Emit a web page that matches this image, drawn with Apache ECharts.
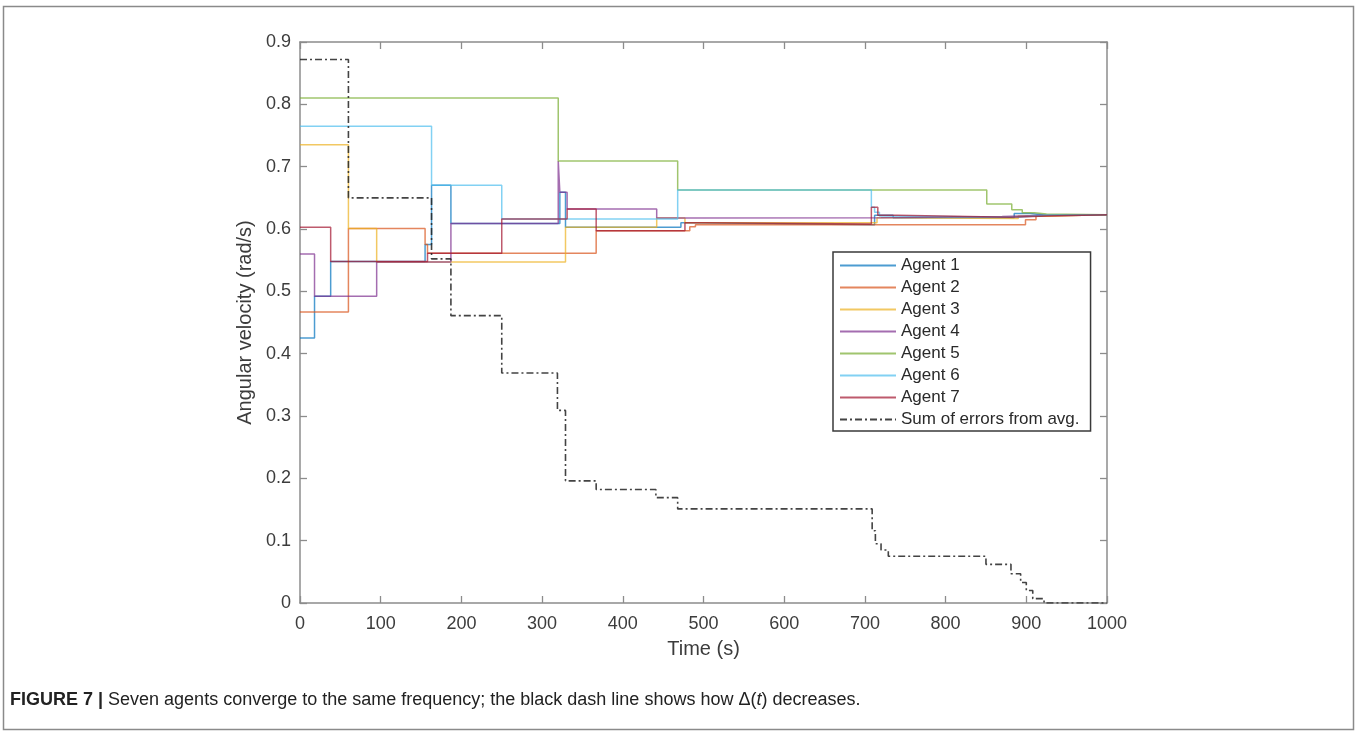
<!DOCTYPE html>
<html>
<head>
<meta charset="utf-8">
<script src="https://cdn.jsdelivr.net/npm/echarts@6/dist/echarts.min.js"></script>
<style>
  html, body { margin: 0; padding: 0; background: #fff; }
  #chart { width: 1357px; height: 735px; }
</style>
</head>
<body>
<div id="chart"></div>
<script>
// Angular velocity of each agent over time, as [time (s), rad/s] steps.
const agent1 = [[0,0.425],[18,0.492],[38,0.548],[155,0.575],[163,0.670],[187,0.609],[322,0.659],[329,0.603],[472,0.610],[490,0.607],[712,0.622],[735,0.618],[885,0.625],[905,0.622],[925,0.623],[1000,0.623]];
const agent2 = [[0,0.467],[60,0.601],[155,0.575],[158,0.561],[367,0.597],[483,0.6035],[490,0.607],[899,0.615],[912,0.621],[925,0.623],[1000,0.623]];
const agent3 = [[0,0.735],[60,0.601],[95,0.547],[329,0.603],[442,0.6175],[477,0.610],[715,0.618],[730,0.617],[890,0.621],[925,0.623],[1000,0.623]];
const agent4 = [[0,0.560],[18,0.492],[95,0.547],[187,0.609],[320,0.709],[322,0.659],[331,0.632],[442,0.6175],[472,0.618],[720,0.620],[870,0.622],[925,0.623],[1000,0.623]];
const agent5 = [[0,0.810],[320,0.709],[468,0.6625],[851,0.640],[882,0.631],[895,0.626],[910,0.624],[925,0.623],[1000,0.623]];
const agent6 = [[0,0.765],[163,0.670],[250,0.616],[468,0.6625],[708,0.635],[712,0.627],[718,0.621],[726,0.619],[890,0.622],[925,0.623],[1000,0.623]];
const agent7 = [[0,0.603],[38,0.548],[158,0.561],[250,0.616],[331,0.632],[367,0.597],[477,0.610],[500,0.608],[708,0.635],[716,0.622],[740,0.619],[880,0.621],[925,0.623],[1000,0.623]];
// Sum of absolute errors from the average velocity.
const errorSum = [[0,0.872],[60,0.650],[163,0.552],[187,0.461],[250,0.369],[319,0.309],[329,0.196],[367,0.182],[441,0.169],[468,0.151],[709,0.116],[713,0.095],[720,0.085],[729,0.075],[850,0.062],[881,0.047],[893,0.033],[900,0.020],[908,0.007],[922,0],[1000,0]];

const seriesNames = ['Agent 1','Agent 2','Agent 3','Agent 4','Agent 5','Agent 6','Agent 7','Sum of errors from avg.'];
const seriesColors = ['#0072BD','#D95319','#EDB120','#7E2F8E','#77AC30','#4DBEEE','#A2142F','#222222'];
const seriesData = [agent1, agent2, agent3, agent4, agent5, agent6, agent7, errorSum];
const xTicks = { min: 0, max: 1000, interval: 100 };
const yTicks = { min: 0, max: 0.9, interval: 0.1 };

const font = "'Liberation Sans', Arial, Helvetica, sans-serif";
const axisGray = '#8c8c8c';
const labelColor = '#3c3c3c';

function frameAxis(extra) {
  return Object.assign({
    type: 'value',
    axisLine: { show: true, onZero: false, lineStyle: { color: axisGray, width: 1.5 } },
    axisTick: { show: true, inside: true, length: 7, lineStyle: { color: axisGray, width: 1.3 } },
    splitLine: { show: false },
    axisLabel: { show: false }
  }, extra);
}

const series = seriesData.map((d, i) => {
  const isErr = i === 7;
  return {
    name: seriesNames[i],
    type: 'line',
    step: 'end',
    data: d,
    symbol: 'none',
    silent: true,
    animation: false,
    xAxisIndex: 0,
    yAxisIndex: 0,
    lineStyle: {
      color: seriesColors[i],
      width: isErr ? 1.6 : 1.5,
      opacity: isErr ? 0.85 : 0.7,
      type: isErr ? [7, 3, 2, 3] : 'solid'
    },
    itemStyle: { color: seriesColors[i] }
  };
});

const chart = echarts.init(document.getElementById('chart'), null, { renderer: 'canvas' });
chart.setOption({
  backgroundColor: '#ffffff',
  animation: false,
  grid: { left: 300, top: 42, right: 250, bottom: 132 },
  xAxis: [
    frameAxis({
      position: 'bottom', min: xTicks.min, max: xTicks.max, interval: xTicks.interval,
      name: 'Time (s)', nameLocation: 'middle', nameGap: 36,
      nameTextStyle: { fontFamily: font, fontSize: 20, color: labelColor },
      axisLabel: { show: true, fontFamily: font, fontSize: 18, color: labelColor, margin: 12,
        formatter: v => String(v) }
    }),
    frameAxis({ position: 'top', min: xTicks.min, max: xTicks.max, interval: xTicks.interval })
  ],
  yAxis: [
    frameAxis({
      position: 'left', min: yTicks.min, max: yTicks.max, interval: yTicks.interval,
      name: 'Angular velocity (rad/s)', nameLocation: 'middle', nameGap: 44,
      nameTextStyle: { fontFamily: font, fontSize: 20, color: labelColor },
      axisLabel: { show: true, fontFamily: font, fontSize: 18, color: labelColor, margin: 9 }
    }),
    frameAxis({ position: 'right', min: yTicks.min, max: yTicks.max, interval: yTicks.interval })
  ],
  legend: {
    orient: 'vertical',
    left: 833,
    top: 252,
    data: seriesNames,
    itemWidth: 56,
    itemHeight: 17,
    itemGap: 5,
    padding: [5, 11, 3, 6],
    borderColor: '#3a3a3a',
    borderWidth: 1.5,
    backgroundColor: '#ffffff',
    selectedMode: false,
    itemStyle: { opacity: 0 },
    textStyle: { fontFamily: font, fontSize: 17, color: '#2a2a2a', padding: [0, 0, 0, 0] }
  },
  graphic: [
    {
      type: 'rect',
      silent: true,
      shape: { x: 3.5, y: 6.5, width: 1350, height: 723 },
      style: { fill: 'none', stroke: '#8a8a8a', lineWidth: 1.5 }
    },
    {
      type: 'text',
      silent: true,
      left: 10,
      top: 691,
      style: {
        text: '{b|FIGURE 7 |} Seven agents converge to the same frequency; the black dash line shows how Δ({i|t}) decreases.',
        fontFamily: font,
        fontSize: 18,
        fill: '#222',
        rich: {
          b: { fontFamily: font, fontSize: 18, fontWeight: 'bold', fill: '#222' },
          i: { fontFamily: font, fontSize: 18, fontStyle: 'italic', fill: '#222' }
        }
      }
    }
  ],
  series: series
});
</script>
</body>
</html>
